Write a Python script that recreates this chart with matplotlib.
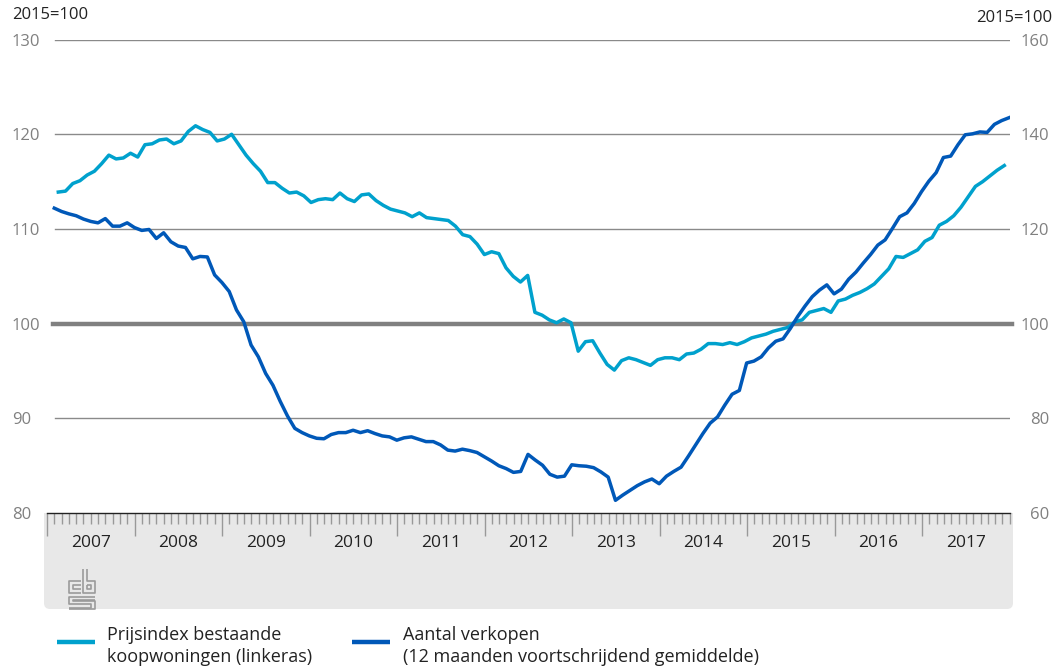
import numpy as np
import matplotlib
matplotlib.use('Agg')
import matplotlib.pyplot as plt
from matplotlib.patches import FancyBboxPatch, Rectangle
from matplotlib.lines import Line2D

plt.rcParams['font.family'] = ['Open Sans', 'DejaVu Sans']

# monthly data, jan 2007 - dec 2017
prijsindex = [
    113.9, 114.0, 114.8, 115.1, 115.7, 116.1, 116.9, 117.8, 117.4, 117.5, 118.0, 117.6,
    118.9, 119.0, 119.4, 119.5, 119.0, 119.3, 120.3, 120.9, 120.5, 120.2, 119.3, 119.5,
    120.0, 118.9, 117.8, 116.9, 116.1, 114.9, 114.9, 114.3, 113.8, 113.9, 113.5, 112.8,
    113.1, 113.2, 113.1, 113.8, 113.2, 112.9, 113.6, 113.7, 113.0, 112.5, 112.1, 111.9,
    111.7, 111.3, 111.7, 111.2, 111.1, 111.0, 110.9, 110.3, 109.4, 109.2, 108.4, 107.3,
    107.6, 107.4, 105.9, 105.0, 104.4, 105.1, 101.2, 100.9, 100.4, 100.1, 100.5, 100.1,
    97.1, 98.1, 98.2, 96.9, 95.7, 95.1, 96.1, 96.4, 96.2, 95.9, 95.6, 96.2,
    96.4, 96.4, 96.2, 96.8, 96.9, 97.3, 97.9, 97.9, 97.8, 98.0, 97.8, 98.1,
    98.5, 98.7, 98.9, 99.2, 99.4, 99.6, 100.2, 100.4, 101.2, 101.4, 101.6, 101.2,
    102.4, 102.6, 103.0, 103.3, 103.7, 104.2, 105.0, 105.8, 107.1, 107.0, 107.4, 107.8,
    108.7, 109.1, 110.4, 110.8, 111.4, 112.3, 113.4, 114.5, 115.0, 115.6, 116.2, 116.7,
]
verkopen = [
    124.4, 123.7, 123.2, 122.8, 122.1, 121.6, 121.3, 122.2, 120.6, 120.6, 121.3, 120.3,
    119.7, 119.9, 118.0, 119.2, 117.3, 116.4, 116.1, 113.7, 114.2, 114.1, 110.3, 108.7,
    106.8, 102.9, 100.4, 95.5, 93.0, 89.5, 87.0, 83.6, 80.5, 77.9, 77.0, 76.3,
    75.8, 75.7, 76.6, 77.0, 77.0, 77.5, 77.0, 77.4, 76.8, 76.3, 76.1, 75.4,
    75.9, 76.1, 75.6, 75.1, 75.1, 74.4, 73.3, 73.1, 73.5, 73.2, 72.8, 71.9,
    71.0, 70.0, 69.4, 68.6, 68.8, 72.4, 71.2, 70.1, 68.2, 67.6, 67.8, 70.2,
    70.0, 69.9, 69.6, 68.7, 67.6, 62.7, 63.8, 64.8, 65.8, 66.6, 67.2, 66.2,
    67.8, 68.8, 69.7, 72.0, 74.4, 76.8, 79.0, 80.3, 82.8, 85.1, 85.9, 91.7,
    92.1, 93.0, 94.9, 96.3, 96.8, 99.0, 101.5, 103.7, 105.7, 107.1, 108.2, 106.3,
    107.3, 109.4, 110.9, 112.8, 114.6, 116.6, 117.7, 120.1, 122.6, 123.4, 125.4, 127.9,
    130.1, 131.9, 135.1, 135.4, 137.8, 139.9, 140.1, 140.5, 140.4, 142.1, 142.9, 143.5,
]
years = [str(y) for y in range(2007, 2018)]
left_ticks = [80, 90, 100, 110, 120, 130]
right_ticks = [60, 80, 100, 120, 140, 160]
legend_labels = ['Prijsindex bestaande\nkoopwoningen (linkeras)',
                 'Aantal verkopen\n(12 maanden voortschrijdend gemiddelde)']

light = '#00a1cd'
dark = '#0058b8'
grey_txt = '#808080'

W, H = 1061, 672
fig = plt.figure(figsize=(W / 100, H / 100), dpi=100)


def frect(x0, y0, x1, y1):
    # pixel box (top-left origin) -> figure fraction rect
    return [x0 / W, 1 - y1 / H, (x1 - x0) / W, (y1 - y0) / H]


X0, X1 = 47, 1009.7
Y_TOP, Y_BOT = 39.6, 513.1

# grey band under the x axis
band = FancyBboxPatch((44 / 100, (H - 609) / 100), 969 / 100, 96 / 100,
                      boxstyle='round,pad=0,rounding_size=0.06',
                      transform=fig.dpi_scale_trans, fc='#e8e8e8', ec='none', zorder=-5)
fig.patches.append(band)
fig.patches.append(Rectangle((44 / 100, (H - 560) / 100), 969 / 100, 47 / 100,
                             transform=fig.dpi_scale_trans, fc='#e8e8e8', ec='none', zorder=-5))

# left axis: prijsindex
ax = fig.add_axes(frect(X0, Y_TOP, X1, Y_BOT))
ax.patch.set_visible(False)
ax.plot(np.arange(len(prijsindex)), prijsindex, color=light, lw=2.5, solid_joinstyle='round', zorder=3)
ax.set_xlim(-1.565, 131.748)
ax.set_ylim(80, 130)
for v in left_ticks[1:]:
    if v == 100:
        continue
    ax.axhline(v, xmin=(55 - X0) / (X1 - X0), xmax=1, color='#8a8a8a', lw=1, zorder=1)
ax.axhline(100, xmin=(52.7 - X0) / (X1 - X0), xmax=(1012 - X0) / (X1 - X0),
           color='#808080', lw=3.2, zorder=2, clip_on=False)
ax.set_yticks(left_ticks)
ax.tick_params(axis='y', length=0, pad=25.2, labelsize=12, labelcolor=grey_txt)
for lab in ax.get_yticklabels():
    lab.set_horizontalalignment('left')
ax.set_xticks([])
for s in ax.spines.values():
    s.set_visible(False)

# right axis: aantal verkopen
ax2 = fig.add_axes(frect(X0, Y_TOP, X1, Y_BOT))
ax2.patch.set_visible(False)
ax2.plot(np.arange(len(verkopen)), verkopen, color=dark, lw=2.5, solid_joinstyle='round', zorder=3)
ax2.set_xlim(-1.0017, 131.096)
ax2.set_ylim(60, 160)
ax2.yaxis.tick_right()
ax2.set_yticks(right_ticks)
ax2.tick_params(axis='y', length=0, pad=28.3, labelsize=12, labelcolor=grey_txt)
for lab in ax2.get_yticklabels():
    lab.set_horizontalalignment('right')
ax2.set_xticks([])
for s in ax2.spines.values():
    s.set_visible(False)

# time axis panel
axt = fig.add_axes(frect(X0, Y_BOT, X1, 609))
axt.patch.set_visible(False)
axt.set_zorder(5)
axt.set_xlim(0, 132)
axt.set_ylim(0, 1)
axt.xaxis.tick_top()
axt.set_xticks(range(0, 121, 12))
axt.set_xticks(range(0, 133), minor=True)
axt.tick_params(axis='x', which='major', direction='in', length=16.5, width=1, color='#999999', labeltop=False)
axt.tick_params(axis='x', which='minor', direction='in', length=8, width=1, color='#999999')
axt.set_yticks([])
for k in ['left', 'right', 'bottom']:
    axt.spines[k].set_visible(False)
axt.spines['top'].set_color('#222222')
axt.spines['top'].set_linewidth(1)
for k, y in enumerate(years):
    axt.text(12 * k + 6, 0.69, y, ha='center', va='center', fontsize=12.5, color='#222222')

# cbs logo (simplified)
lx = lambda x: x / W
ly = lambda y: 1 - y / H
logo = dict(color='#9a9a9a', lw=1.2, solid_capstyle='butt')
segs = [
    [(81, 581), (69, 581), (69, 593), (81, 593)],
    [(81, 585), (73, 585), (73, 589), (81, 589)],
    [(83, 569), (83, 593), (95, 593), (95, 581), (87, 581), (87, 569)],
    [(87, 585), (91, 585), (91, 589), (87, 589), (87, 585)],
    [(95, 597), (69, 597), (69, 604), (91, 604), (91, 608), (69, 608)],
    [(95, 600), (73, 600), (73, 601), (95, 601), (95, 609), (69, 609)],
]
for sg in segs:
    xs, ys = zip(*sg)
    fig.add_artist(Line2D([lx(x) for x in xs], [ly(y) for y in ys], transform=fig.transFigure, **logo))

# unit labels
fig.text(12 / W, ly(15), '2015=100', ha='left', va='center', fontsize=12, color='#222222')
fig.text(1052 / W, ly(18), '2015=100', ha='right', va='center', fontsize=12, color='#222222')

# legend
for (x0, x1, tx), col, lab in zip([(57, 95, 107), (352, 390, 403)], [light, dark], legend_labels):
    fig.add_artist(Line2D([lx(x0), lx(x1)], [ly(642), ly(642)], transform=fig.transFigure,
                          color=col, lw=3.2, solid_capstyle='butt'))
    fig.text(lx(tx), ly(626), lab, ha='left', va='top', fontsize=13, color='#222222', linespacing=1.3)

fig.savefig('out.png', dpi=100)
